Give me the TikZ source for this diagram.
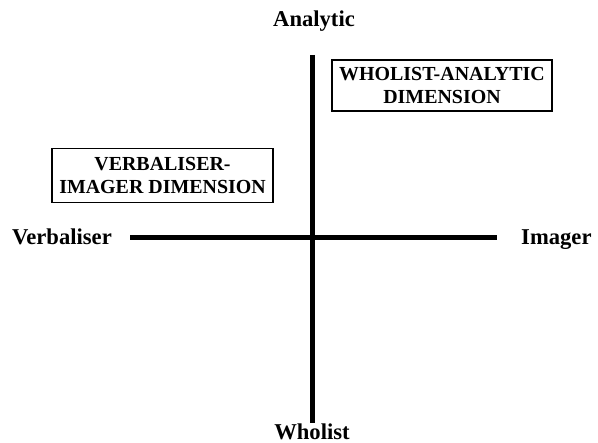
\documentclass[tikz,border=0pt]{standalone}
\usepackage{fontspec}
\setmainfont{Liberation Serif}
\usetikzlibrary{positioning}

\begin{document}
\begin{tikzpicture}[
    x=1bp, y=-1bp,
    axis/.style={line width=5bp},
    pole/.style={font=\fontsize{22.7}{27}\selectfont\bfseries, inner sep=0pt},
    dimbox/.style={draw, line width=1.5bp, minimum width=220bp,
                   align=center, inner sep=0pt,
                   font=\fontsize{20}{22.5}\selectfont\bfseries}
  ]
    \useasboundingbox (0,0) rectangle (598,443);

    % axes
    \coordinate (top) at (312.5,55);
    \coordinate (bot) at (312.5,423);
    \coordinate (lft) at (130,238);
    \coordinate (rgt) at (497,238);
    \draw[axis] (top) -- (bot);
    \draw[axis] (lft) -- (rgt);

    % poles
    \node[pole, anchor=base] (ana) at (314,27) {Analytic};
    \node[pole, anchor=base] (who) at (312,439) {Wholist};
    \node[pole, anchor=base east] (verb) at (112,245) {Verbaliser};
    \node[pole, anchor=base west] (img) at (521,245) {Imager};

    % dimensions
    \node[dimbox, minimum height=51bp] (wa) at (442,85.5)
      {WHOLIST-ANALYTIC\\DIMENSION};
    \node[dimbox, minimum height=54bp, minimum width=221bp] (vi) at (162.5,175.5)
      {VERBALISER-\\IMAGER DIMENSION};
\end{tikzpicture}
\end{document}
